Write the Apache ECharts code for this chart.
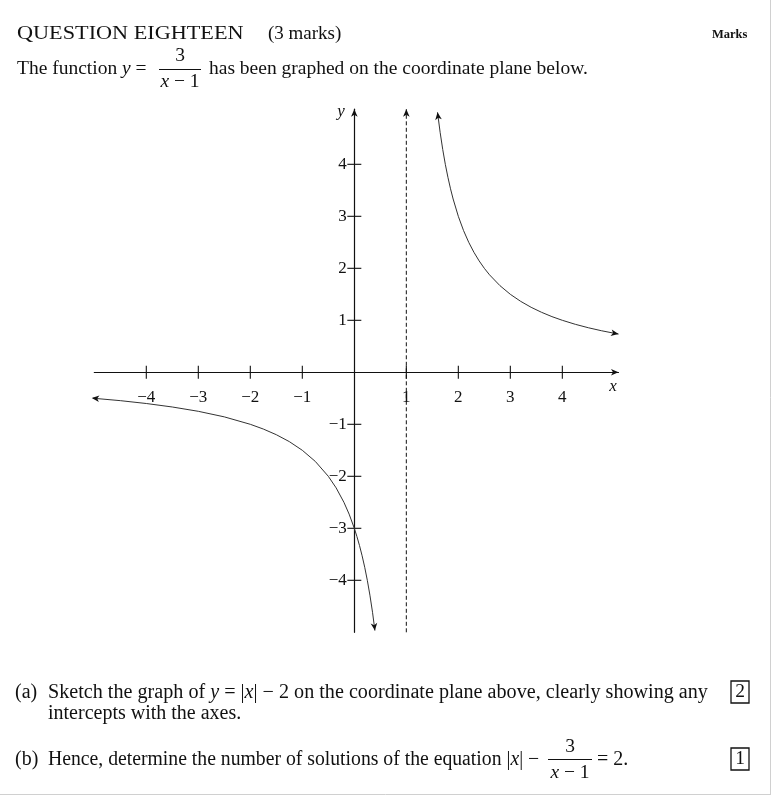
<!DOCTYPE html>
<html><head><meta charset="utf-8">
<script src="https://cdn.jsdelivr.net/npm/echarts@6/dist/echarts.min.js"></script>
<style>html,body{margin:0;padding:0;background:#fff}#c{width:772px;height:796px}</style>
</head><body><div id="c"></div>
<script>
// ---- data ----
const xTickValues = [-4, -3, -2, -1, 1, 2, 3, 4];
const yTickValues = [-4, -3, -2, -1, 1, 2, 3, 4];
const xRange = [-5, 5.08];
const yRange = [-5, 5.06];
const asymptoteX = 1;
const rightBranchX = [1.6, 1.65, 1.7, 1.75, 1.8, 1.85, 1.9, 2.0, 2.1, 2.2, 2.3, 2.4, 2.5, 2.6, 2.8, 3.0, 3.2, 3.4, 3.6, 3.8, 4.0, 4.25, 4.5, 4.75, 5.08];
const rightBranchY = [5.0, 4.615, 4.286, 4.0, 3.75, 3.529, 3.333, 3.0, 2.727, 2.5, 2.308, 2.143, 2.0, 1.875, 1.667, 1.5, 1.364, 1.25, 1.154, 1.071, 1.0, 0.923, 0.857, 0.8, 0.735];
const leftBranchX = [-5.05, -4.5, -4, -3.5, -3, -2.5, -2, -1.75, -1.5, -1.25, -1, -0.75, -0.5, -0.35, -0.2, -0.1, 0, 0.05, 0.1, 0.15, 0.2, 0.25, 0.3, 0.35, 0.396];
const leftBranchY = [-0.496, -0.545, -0.6, -0.667, -0.75, -0.857, -1.0, -1.091, -1.2, -1.333, -1.5, -1.714, -2.0, -2.222, -2.5, -2.727, -3.0, -3.158, -3.333, -3.529, -3.75, -4.0, -4.286, -4.615, -4.967];

// ---- build ----
const SERIF = '"Liberation Serif", "Times New Roman", serif';
const rightData = rightBranchX.map((x, i) => [x, rightBranchY[i]]);
const leftData = leftBranchX.map((x, i) => [x, leftBranchY[i]]);
const asymptoteData = [[asymptoteX, yRange[0]], [asymptoteX, yRange[1]]];
const nR = rightData.length, nL = leftData.length;
// arrowheads: [tipX, tipY, fromX, fromY]
const arrowData = [
  [xRange[1], 0, 0, 0],
  [0, yRange[1], 0, 0],
  [asymptoteX, yRange[1], asymptoteX, 0],
  [rightData[0][0], rightData[0][1], rightData[1][0], rightData[1][1]],
  [rightData[nR - 1][0], rightData[nR - 1][1], rightData[nR - 2][0], rightData[nR - 2][1]],
  [leftData[0][0], leftData[0][1], leftData[1][0], leftData[1][1]],
  [leftData[nL - 1][0], leftData[nL - 1][1], leftData[nL - 2][0], leftData[nL - 2][1]]
];
const fmt = v => String(v).replace('-', '\u2212');

function arrowItem(params, api) {
  const tip = api.coord([api.value(0), api.value(1)]);
  const from = api.coord([api.value(2), api.value(3)]);
  const a = Math.atan2(tip[1] - from[1], tip[0] - from[0]);
  const L = 7.5, W = 3.3, N = 2;
  const c = Math.cos(a), s = Math.sin(a);
  const pt = (dx, dy) => [tip[0] + dx * c - dy * s, tip[1] + dx * s + dy * c];
  return { type: 'polygon', shape: { points: [pt(0, 0), pt(-L, W), pt(-L + N, 0), pt(-L, -W)] }, style: { fill: '#111' } };
}
function xTickItem(params, api) {
  const v = api.value(0);
  const p = api.coord([v, 0]);
  return { type: 'group', children: [
    { type: 'line', shape: { x1: p[0], y1: p[1] - 6.5, x2: p[0], y2: p[1] + 6.5 }, style: { stroke: '#111', lineWidth: 1.1 } },
    { type: 'text', x: p[0], y: p[1] + 25, style: { text: fmt(v), align: 'center', verticalAlign: 'middle', fontFamily: SERIF, fontSize: 17, fill: '#111' } }
  ] };
}
function yTickItem(params, api) {
  const v = api.value(0);
  const p = api.coord([0, v]);
  return { type: 'group', children: [
    { type: 'line', shape: { x1: p[0] - 7, y1: p[1], x2: p[0] + 7, y2: p[1] }, style: { stroke: '#111', lineWidth: 1.1 } },
    { type: 'text', x: p[0] - 7.5, y: p[1] + 0.5, style: { text: fmt(v), align: 'right', verticalAlign: 'middle', fontFamily: SERIF, fontSize: 17, fill: '#111' } }
  ] };
}

function T(x, baseline, text, size, opts) {
  opts = opts || {};
  return {
    type: 'text', x: x, y: baseline - size * 0.33, scaleX: opts.sx || 1,
    style: Object.assign({
      text: text, fill: '#111', fontFamily: SERIF, fontSize: size,
      align: opts.align || 'left', verticalAlign: 'middle',
      rich: {
        r: { fontFamily: SERIF, fontSize: size, fill: '#111' },
        i: { fontFamily: SERIF, fontSize: size, fontStyle: 'italic', fill: '#111' }
      }
    }, opts.style || {})
  };
}

const BODY = 19.5;
const QS = 20;
const graphic = [
  { type: 'line', shape: { x1: 770.5, y1: 0, x2: 770.5, y2: 795 }, style: { stroke: '#d0d0d0', lineWidth: 1 } },
  { type: 'line', shape: { x1: 0, y1: 794.5, x2: 771, y2: 794.5 }, style: { stroke: '#d0d0d0', lineWidth: 1 } },
  T(17, 40, 'QUESTION EIGHTEEN', 19, { sx: 1.17 }),
  T(268, 40, '(3 marks)', 19),
  T(712, 39, 'Marks', 12.5, { style: { fontWeight: 'bold' } }),
  T(17, 75, '{r|The function }{i|y}{r| =}', BODY),
  T(180, 62, '3', BODY, { align: 'center' }),
  { type: 'line', shape: { x1: 159, y1: 69.5, x2: 201, y2: 69.5 }, style: { stroke: '#111', lineWidth: 1.2 } },
  T(180, 88, '{i|x}{r| \u2212 1}', BODY, { align: 'center' }),
  T(209, 75, 'has been graphed on the coordinate plane below.', BODY),
  T(15, 699, '(a)', QS),
  T(48, 699, '{r|Sketch the graph of }{i|y}{r| = |}{i|x}{r|| \u2212 2 on the coordinate plane above, clearly showing any}', QS, { sx: 1.007 }),
  T(48, 720, 'intercepts with the axes.', QS),
  { type: 'rect', shape: { x: 731, y: 681, width: 18, height: 22 }, style: { fill: 'none', stroke: '#111', lineWidth: 1.3 } },
  T(740, 698, '2', BODY, { align: 'center' }),
  T(15, 766, '(b)', QS),
  T(48, 766, '{r|Hence, determine the number of solutions of the equation |}{i|x}{r|| \u2212}', QS, { sx: 0.985 }),
  T(570, 753, '3', BODY, { align: 'center' }),
  { type: 'line', shape: { x1: 548, y1: 759.5, x2: 592, y2: 759.5 }, style: { stroke: '#111', lineWidth: 1.2 } },
  T(570, 779, '{i|x}{r| \u2212 1}', BODY, { align: 'center' }),
  T(597, 766, '= 2.', QS),
  { type: 'rect', shape: { x: 731, y: 748, width: 18, height: 22 }, style: { fill: 'none', stroke: '#111', lineWidth: 1.3 } },
  T(740, 765, '1', BODY, { align: 'center' }),
  T(341, 117, '{i|y}', 17, { align: 'center' }),
  T(613, 392, '{i|x}', 17, { align: 'center' })
];

const chart = echarts.init(document.getElementById('c'), null, { renderer: 'canvas' });
chart.setOption({
  animation: false,
  backgroundColor: '#fff',
  grid: { left: 94.3, top: 109.2, width: 524.2, height: 523.1, containLabel: false },
  xAxis: {
    type: 'value', min: xRange[0], max: xRange[1],
    axisLine: { onZero: true, lineStyle: { color: '#111', width: 1.2 } },
    axisTick: { show: false }, splitLine: { show: false }, axisLabel: { show: false }
  },
  yAxis: {
    type: 'value', min: yRange[0], max: yRange[1],
    axisLine: { onZero: true, lineStyle: { color: '#111', width: 1.2 } },
    axisTick: { show: false }, splitLine: { show: false }, axisLabel: { show: false }
  },
  series: [
    { type: 'line', data: asymptoteData, showSymbol: false, clip: false, silent: true,
      lineStyle: { color: '#111', width: 1, type: [4, 2.5] } },
    { type: 'line', data: rightData, showSymbol: false, smooth: false, clip: false,
      lineStyle: { color: '#333', width: 1 } },
    { type: 'line', data: leftData, showSymbol: false, smooth: false, clip: false,
      lineStyle: { color: '#333', width: 1 } },
    { type: 'custom', renderItem: xTickItem, data: xTickValues.map(v => [v]), clip: false },
    { type: 'custom', renderItem: yTickItem, data: yTickValues.map(v => [v]), clip: false },
    { type: 'custom', renderItem: arrowItem, data: arrowData, clip: false, z: 5 }
  ],
  graphic: graphic
});
</script></body></html>
